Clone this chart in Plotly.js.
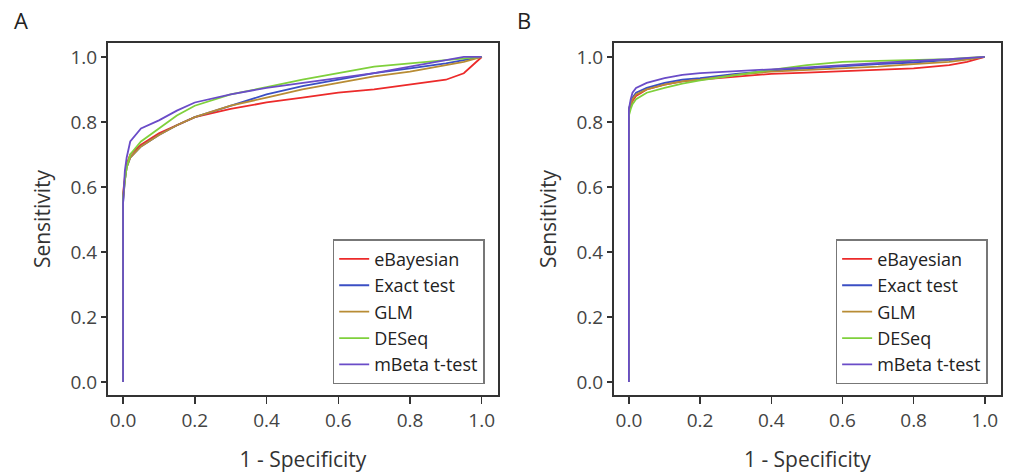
<!DOCTYPE html>
<html>
<head>
<meta charset="utf-8">
<script src="https://cdn.plot.ly/plotly-3.0.1.min.js"></script>
<style>html,body{margin:0;padding:0;background:#fff;}#chart{width:1014px;height:476px;}</style>
</head>
<body>
<div id="chart"></div>
<script>
// ---- data ----
const methods = ["eBayesian", "Exact test", "GLM", "DESeq", "mBeta t-test"];
const colors = ["#ec2a2a", "#3b4fc4", "#b88c34", "#7fd03c", "#6a4cc8"];
const fpr = [0, 0, 0.005, 0.01, 0.02, 0.05, 0.1, 0.15, 0.2, 0.3, 0.4, 0.5, 0.6, 0.7, 0.8, 0.9, 0.95, 1.0];

// Panel A sensitivities
const a_eBayesian = [0, 0.58, 0.63, 0.67, 0.70, 0.73, 0.765, 0.79, 0.815, 0.84, 0.86, 0.875, 0.89, 0.90, 0.915, 0.93, 0.95, 1.0];
const a_exact     = [0, 0.55, 0.62, 0.66, 0.69, 0.725, 0.76, 0.79, 0.815, 0.85, 0.885, 0.91, 0.93, 0.95, 0.965, 0.98, 0.99, 1.0];
const a_glm       = [0, 0.56, 0.62, 0.66, 0.69, 0.725, 0.76, 0.79, 0.815, 0.85, 0.875, 0.90, 0.92, 0.94, 0.955, 0.975, 0.985, 1.0];
const a_deseq     = [0, 0.57, 0.62, 0.66, 0.70, 0.74, 0.78, 0.82, 0.85, 0.885, 0.907, 0.93, 0.95, 0.97, 0.98, 0.99, 0.995, 1.0];
const a_mbeta     = [0, 0.55, 0.65, 0.69, 0.74, 0.78, 0.805, 0.835, 0.86, 0.885, 0.905, 0.92, 0.935, 0.95, 0.97, 0.99, 1.0, 1.0];

// Panel B sensitivities
const b_eBayesian = [0, 0.83, 0.85, 0.865, 0.88, 0.90, 0.915, 0.925, 0.93, 0.94, 0.948, 0.952, 0.957, 0.96, 0.965, 0.975, 0.985, 1.0];
const b_exact     = [0, 0.84, 0.86, 0.875, 0.89, 0.905, 0.92, 0.93, 0.935, 0.948, 0.958, 0.965, 0.972, 0.978, 0.983, 0.99, 0.995, 1.0];
const b_glm       = [0, 0.84, 0.855, 0.87, 0.885, 0.90, 0.915, 0.925, 0.93, 0.945, 0.955, 0.96, 0.965, 0.97, 0.978, 0.985, 0.992, 1.0];
const b_deseq     = [0, 0.82, 0.84, 0.855, 0.87, 0.89, 0.905, 0.918, 0.928, 0.945, 0.96, 0.975, 0.985, 0.988, 0.99, 0.993, 0.997, 1.0];
const b_mbeta     = [0, 0.84, 0.87, 0.89, 0.905, 0.92, 0.935, 0.945, 0.95, 0.957, 0.962, 0.968, 0.975, 0.98, 0.988, 0.993, 0.997, 1.0];

const tickVals = [0, 0.2, 0.4, 0.6, 0.8, 1.0];
const tickText = ["0.0", "0.2", "0.4", "0.6", "0.8", "1.0"];
const xTitle = "1 - Specificity";
const yTitle = "Sensitivity";
const panelLabels = ["A", "B"];

// ---- build ----
const FONT = "Open Sans, Noto Sans, sans-serif";
const seriesA = [a_eBayesian, a_exact, a_glm, a_deseq, a_mbeta];
const seriesB = [b_eBayesian, b_exact, b_glm, b_deseq, b_mbeta];
const traces = [];
seriesA.forEach((s, i) => traces.push({
  x: fpr, y: s, type: "scatter", mode: "lines", name: methods[i],
  line: {color: colors[i], width: 1.8}, xaxis: "x", yaxis: "y", legend: "legend"
}));
seriesB.forEach((s, i) => traces.push({
  x: fpr, y: s, type: "scatter", mode: "lines", name: methods[i],
  line: {color: colors[i], width: 1.8}, xaxis: "x2", yaxis: "y2", legend: "legend2"
}));

function xax(domain, anchor) {
  return {
    domain: domain, anchor: anchor, range: [-0.042, 1.045],
    tickvals: tickVals, ticktext: tickText, ticks: "outside", ticklen: 7, tickwidth: 1.5, tickcolor: "#333",
    showline: true, mirror: true, linecolor: "#333", linewidth: 2, showgrid: false, zeroline: false,
    tickfont: {family: FONT, size: 19, color: "#444"},
    title: {text: xTitle, font: {family: FONT, size: 21, color: "#333"}, standoff: 20}
  };
}
function yax(domain, anchor) {
  return {
    domain: domain, anchor: anchor, range: [-0.04, 1.043],
    tickvals: tickVals, ticktext: tickText, ticks: "outside", ticklen: 5, tickwidth: 1.5, tickcolor: "#333",
    showline: true, mirror: true, linecolor: "#333", linewidth: 2, showgrid: false, zeroline: false,
    tickfont: {family: FONT, size: 19, color: "#444"},
    title: {text: yTitle, font: {family: FONT, size: 21, color: "#333"}, standoff: 14}
  };
}
const legendStyle = (x) => ({
  x: x, y: 0.193, xanchor: "right", yanchor: "bottom",
  bordercolor: "#777", borderwidth: 1.5, bgcolor: "#fff",
  font: {family: FONT, size: 18, color: "#222"}, tracegroupgap: 0, itemwidth: 30
});

const layout = {
  width: 1014, height: 476,
  margin: {l: 0, r: 0, t: 0, b: 0},
  paper_bgcolor: "#fff", plot_bgcolor: "#fff",
  showlegend: true,
  xaxis: xax([0.1065, 0.491], "y"),
  yaxis: yax([0.170, 0.9097], "x"),
  xaxis2: xax([0.6055, 0.987], "y2"),
  yaxis2: yax([0.170, 0.9097], "x2"),
  legend: legendStyle(0.478),
  legend2: legendStyle(0.974),
  annotations: [
    {text: panelLabels[0], xref: "paper", yref: "paper", x: 21/1014, y: 1 - 20/476, xanchor: "center", yanchor: "middle", showarrow: false, font: {family: FONT, size: 22, color: "#222"}},
    {text: panelLabels[1], xref: "paper", yref: "paper", x: 524/1014, y: 1 - 20/476, xanchor: "center", yanchor: "middle", showarrow: false, font: {family: FONT, size: 22, color: "#222"}}
  ]
};
Plotly.newPlot("chart", traces, layout, {displayModeBar: false, staticPlot: true});
</script>
</body>
</html>
